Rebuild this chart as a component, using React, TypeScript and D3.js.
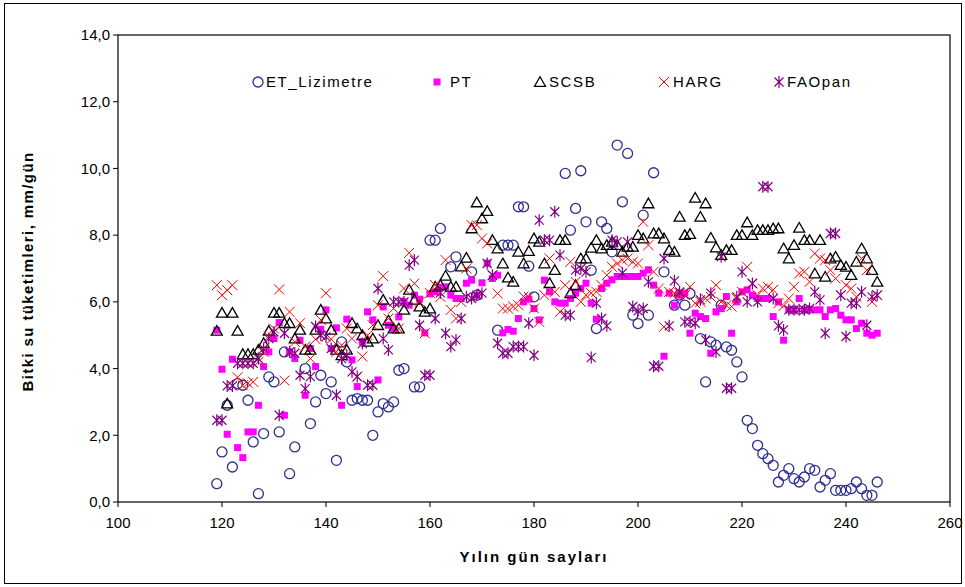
import React from "react";
import * as d3 from "d3";

// ---------- data ----------
const xTicks = [100, 120, 140, 160, 180, 200, 220, 240, 260];
const yTicks = [0, 2, 4, 6, 8, 10, 12, 14];

const seriesNames = ["ET_Lizimetre", "PT", "SCSB", "HARG", "FAOpan"];

const etDays = [
  119, 120, 121, 122, 123, 124, 125, 126, 127, 128, 129, 130, 131, 132, 133, 134, 136, 137, 138, 139,
  140, 141, 142, 143, 144, 145, 146, 147, 148, 149, 150, 151, 152, 153, 154, 155, 157, 158, 160, 161,
  162, 164, 165, 168, 169, 173, 174, 175, 176, 177, 178, 179, 180, 186, 187, 188, 189, 190, 191, 192,
  193, 194, 195, 196, 197, 198, 199, 200, 201, 202, 203, 205, 207, 208, 209, 210, 212, 213, 214, 215,
  216, 217, 218, 219, 220, 221, 222, 223, 224, 225, 226, 227, 228, 229, 230, 231, 232, 233, 234, 235,
  236, 237, 238, 239, 240, 241, 242, 243, 244, 245, 246,
];
const etValues = [
  0.55, 1.5, 2.9, 1.05, 3.55, 3.5, 3.05, 1.8, 0.25, 2.05, 3.75, 3.6, 2.1, 4.5, 0.85, 1.65, 4.0, 2.35, 3.0, 3.8,
  3.25, 3.6, 1.25, 4.8, 4.2, 3.05, 3.1, 3.05, 3.05, 2.0, 2.7, 2.95, 2.85, 3.0, 3.95, 4.0, 3.45, 3.45, 7.85, 7.85,
  8.2, 7.05, 7.35, 6.9, 6.2, 5.15, 7.7, 7.7, 7.7, 8.85, 8.85, 7.07, 6.15, 9.85, 8.15, 8.8, 9.93, 8.4, 6.95, 5.2,
  8.4, 8.2, 7.5, 10.7, 9.0, 10.45, 5.6, 5.35, 8.6, 5.6, 9.87, 6.9, 5.9, 6.2, 5.9, 6.25, 4.9, 3.6, 4.8, 4.7,
  5.9, 4.65, 4.55, 4.2, 3.75, 2.45, 2.2, 1.7, 1.45, 1.3, 1.1, 0.6, 0.8, 1.0, 0.7, 0.6, 0.75, 1.0, 0.95, 0.45,
  0.65, 0.85, 0.35, 0.35, 0.35, 0.4, 0.6, 0.4, 0.2, 0.2, 0.6,
];

// days 119..246 for the four estimation methods
const modelDays = d3.range(119, 247);

const ptValues = [
  5.15, 3.98, 2.03, 4.28, 1.63, 1.33, 2.1, 2.1, 2.9, 4.06,
  4.5, 4.9, 5.38, 2.6, 4.5, 4.3, 4.85, 3.2, 4.6, 4.06,
  5.18, 5.76, 4.6, 5.22, 2.9, 5.48, 4.26, 3.46, 4.8, 5.7,
  5.46, 3.66, 5.85, 5.3, 5.2, 5.55, 6.0, 5.9, 6.2, 6.08,
  5.07, 6.24, 6.3, 6.44, 6.45, 6.2, 6.1, 6.1, 6.56, 6.65,
  6.2, 6.57, 7.16, 6.7, 6.8, 5.07, 5.17, 5.12, 5.5, 6.0,
  6.08, 5.8, 5.46, 6.65, 6.3, 6.0, 5.96, 5.96, 6.1, 6.26,
  6.4, 6.56, 5.96, 5.48, 6.4, 6.56, 6.66, 6.76, 6.76, 6.76,
  6.76, 6.76, 6.86, 6.96, 6.5, 6.26, 4.37, 6.26, 5.9, 6.2,
  6.26, 5.06, 5.66, 5.56, 5.5, 4.46, 5.7, 5.8, 6.16, 5.06,
  6.0, 6.3, 6.36, 6.2, 6.1, 6.1, 6.1, 5.56, 6.0, 4.85,
  5.76, 5.76, 6.1, 5.76, 5.76, 5.76, 5.76, 5.56, 5.76, 5.8,
  5.6, 5.46, 5.46, 5.2, 5.36, 5.06, 5.0, 5.06,
];

const scsbValues = [
  5.13, 5.67, 2.95, 5.67, 5.13, 4.43, 4.43, 4.43, 4.56, 4.76,
  5.13, 5.67, 5.67, 5.36, 5.36, 4.9, 5.16, 4.56, 4.56, 5.16,
  5.76, 5.5, 5.16, 4.56, 4.4, 4.56, 5.36, 5.2, 5.0, 4.8,
  4.9, 5.3, 6.06, 5.44, 5.2, 5.2, 5.76, 6.36, 6.06, 5.86,
  5.7, 5.8, 6.45, 6.5, 6.78, 6.45, 6.45, 7.06, 7.32, 8.2,
  8.98, 8.5, 8.72, 7.85, 7.6, 7.15, 6.73, 6.6, 7.5, 7.15,
  7.52, 7.9, 7.8, 7.15, 6.56, 6.95, 7.85, 7.85, 6.26, 6.5,
  7.3, 7.3, 7.62, 7.85, 7.6, 7.7, 7.8, 7.7, 7.5, 7.65,
  7.65, 8.0, 7.9, 8.95, 8.05, 8.05, 7.9, 7.55, 7.5, 8.55,
  8.0, 8.03, 9.12, 8.55, 8.95, 7.92, 7.63, 7.4, 7.55, 7.55,
  8.0, 8.0, 8.38, 8.0, 8.15, 8.15, 8.15, 8.2, 8.2, 7.6,
  7.3, 7.7, 8.22, 7.85, 7.85, 6.85, 7.85, 6.75, 7.3, 7.35,
  7.1, 7.05, 6.8, 7.2, 7.6, 7.3, 6.95, 6.6,
];

const hargValues = [
  6.5, 6.2, 6.35, 6.5, 3.74, 3.5, 3.56, 3.6, 4.2, 4.5,
  4.96, 5.2, 6.37, 3.64, 5.7, 4.8, 5.36, 4.66, 4.3, 4.88,
  5.46, 6.26, 4.88, 4.5, 4.7, 5.2, 4.9, 3.76, 4.36, 5.0,
  5.3, 5.9, 6.77, 5.5, 5.8, 5.2, 6.4, 7.47, 6.55, 6.0,
  5.06, 6.26, 6.5, 6.15, 7.25, 5.76, 5.5, 6.0, 7.0, 8.3,
  8.3, 7.9, 7.75, 6.8, 6.25, 5.8, 5.8, 5.86, 5.9, 6.16,
  6.15, 5.8, 5.4, 6.2, 7.3, 6.3, 5.7, 6.5, 7.2, 6.6,
  6.0, 6.2, 6.26, 6.3, 6.5, 6.8, 7.05, 7.15, 7.25, 7.3,
  7.2, 7.15, 8.4, 7.7, 6.9, 6.4, 5.25, 6.3, 6.26, 6.26,
  6.2, 6.45, 5.96, 6.0, 6.1, 6.15, 6.5, 6.0, 5.9, 5.86,
  6.1, 6.3, 7.05, 6.55, 6.2, 6.4, 6.45, 6.36, 5.96, 5.88,
  6.1, 6.45, 6.85, 6.9, 6.6, 7.45, 7.3, 7.25, 6.95, 6.7,
  6.2, 6.5, 6.4, 6.15, 7.3, 6.95, 6.0, 6.2,
];

const faoValues = [
  2.45, 2.45, 3.48, 3.48, 4.16, 4.16, 4.16, 4.16, 4.3, 4.6,
  4.9, 5.1, 2.6, 5.06, 4.5, 4.46, 3.8, 3.4, 3.76, 5.26,
  5.0, 4.95, 4.6, 3.2, 4.3, 4.4, 3.9, 3.76, 4.75, 3.5,
  3.5, 6.4, 4.9, 4.56, 6.0, 6.0, 6.0, 7.1, 7.25, 5.3,
  3.8, 3.8, 5.5, 6.27, 5.06, 4.66, 4.86, 5.5, 6.15, 6.1,
  6.2, 6.26, 7.15, 6.8, 4.76, 4.46, 4.46, 4.66, 4.66, 4.66,
  5.36, 4.4, 8.45, 7.85, 7.85, 8.7, 7.4, 5.6, 5.6, 6.95,
  7.0, 6.9, 4.33, 5.96, 5.5, 5.28, 7.85, 7.8, 6.86, 7.8,
  5.86, 5.73, 5.8, 6.6, 4.07, 4.07, 7.3, 5.28, 6.63, 6.3,
  5.4, 5.4, 5.36, 6.06, 4.86, 6.26, 4.5, 7.35, 3.41, 3.41,
  6.15, 6.9, 6.0, 6.55, 6.0, 9.45, 9.45, 6.1, 5.28, 5.16,
  5.76, 5.76, 5.76, 5.76, 5.8, 6.3, 6.06, 5.06, 8.05, 8.05,
  6.2, 4.96, 5.96, 5.96, 6.3, 5.3, 6.15, 6.2,
];

// ---------- layout ----------
const W = 965;
const H = 587;
const plot = { left: 118, right: 950, top: 35, bottom: 502 };
const FONT = "'Liberation Sans', Arial, sans-serif";

const x = d3.scaleLinear().domain([100, 260]).range([plot.left, plot.right]);
const y = d3.scaleLinear().domain([0, 14]).range([plot.bottom, plot.top]);

const fmt = (v: number) => v.toFixed(1).replace(".", ",");

type Kind = "circle" | "square" | "triangle" | "x" | "star";

function Marker({ kind, cx, cy }: { kind: Kind; cx: number; cy: number }) {
  if (kind === "circle")
    return <circle cx={cx} cy={cy} r={5} fill="none" stroke="#2e2e8f" strokeWidth={1.3} />;
  if (kind === "square")
    return <rect x={cx - 3.5} y={cy - 3.5} width={7} height={7} fill="#ff00ff" />;
  if (kind === "triangle")
    return (
      <path
        d={`M${cx},${cy - 5.3}L${cx + 5.5},${cy + 4.3}L${cx - 5.5},${cy + 4.3}Z`}
        fill="none"
        stroke="#000"
        strokeWidth={1.3}
      />
    );
  if (kind === "x")
    return (
      <path
        d={`M${cx - 5},${cy - 5}L${cx + 5},${cy + 5}M${cx - 5},${cy + 5}L${cx + 5},${cy - 5}`}
        stroke="#ff0000"
        strokeWidth={1}
        fill="none"
      />
    );
  return (
    <path
      d={`M${cx - 4.5},${cy - 4.5}L${cx + 4.5},${cy + 4.5}M${cx - 4.5},${cy + 4.5}L${cx + 4.5},${cy - 4.5}M${cx},${cy - 6}L${cx},${cy + 6}`}
      stroke="#800080"
      strokeWidth={1.2}
      fill="none"
    />
  );
}

const series: { name: string; kind: Kind; days: number[]; values: number[] }[] = [
  { name: seriesNames[0], kind: "circle", days: etDays, values: etValues },
  { name: seriesNames[1], kind: "square", days: modelDays, values: ptValues },
  { name: seriesNames[2], kind: "triangle", days: modelDays, values: scsbValues },
  { name: seriesNames[3], kind: "x", days: modelDays, values: hargValues },
  { name: seriesNames[4], kind: "star", days: modelDays, values: faoValues },
];

const legendPos = [
  { mx: 258, tx: 266 },
  { mx: 437, tx: 450 },
  { mx: 540, tx: 549 },
  { mx: 664, tx: 673 },
  { mx: 779, tx: 787 },
];

export default function App() {
  return (
    <svg
      width={W}
      height={H}
      style={{ position: "absolute", left: 0, top: 0, background: "#fff" }}
      fontFamily={FONT}
    >
      <rect x={0} y={0} width={W} height={H} fill="#fff" />
      <rect x={4.5} y={3.5} width={957} height={580} fill="none" stroke="#000" strokeWidth={1} />
      {/* plot frame */}
      <rect
        x={plot.left}
        y={plot.top}
        width={plot.right - plot.left}
        height={plot.bottom - plot.top}
        fill="#fff"
        stroke="#000"
        strokeWidth={1.2}
      />
      {/* y ticks */}
      {yTicks.map((t) => (
        <g key={"y" + t}>
          <line x1={plot.left - 5} x2={plot.left} y1={y(t)} y2={y(t)} stroke="#000" />
          <text x={plot.left - 8} y={y(t)} dy="0.35em" textAnchor="end" fontSize={15} fill="#000">
            {fmt(t)}
          </text>
        </g>
      ))}
      {/* x ticks */}
      {xTicks.map((t) => (
        <g key={"x" + t}>
          <line x1={x(t)} x2={x(t)} y1={plot.bottom} y2={plot.bottom + 5} stroke="#000" />
          <text x={x(t)} y={plot.bottom + 26} textAnchor="middle" fontSize={15} fill="#000">
            {t}
          </text>
        </g>
      ))}
      {/* axis titles */}
      <text x={534} y={562} textAnchor="middle" fontSize={15} fontWeight="bold" letterSpacing={2} fill="#000">
        Yılın gün sayları
      </text>
      <text
        transform={`translate(33,${(plot.top + plot.bottom) / 2 + 3}) rotate(-90)`}
        textAnchor="middle"
        fontSize={15}
        fontWeight="bold"
        letterSpacing={1.4}
        fill="#000"
      >
        Bitki su tüketimleri, mm/gün
      </text>
      {/* data */}
      {series.map((s) => (
        <g key={s.name}>
          {s.days.map((d, i) => (
            <Marker key={i} kind={s.kind} cx={x(d)} cy={y(s.values[i])} />
          ))}
        </g>
      ))}
      {/* legend */}
      {series.map((s, i) => (
        <g key={"lg" + s.name}>
          <Marker kind={s.kind} cx={legendPos[i].mx} cy={82} />
          <text x={legendPos[i].tx} y={82} dy="0.35em" fontSize={15} letterSpacing={1.6} fill="#000">
            {s.name}
          </text>
        </g>
      ))}
    </svg>
  );
}
